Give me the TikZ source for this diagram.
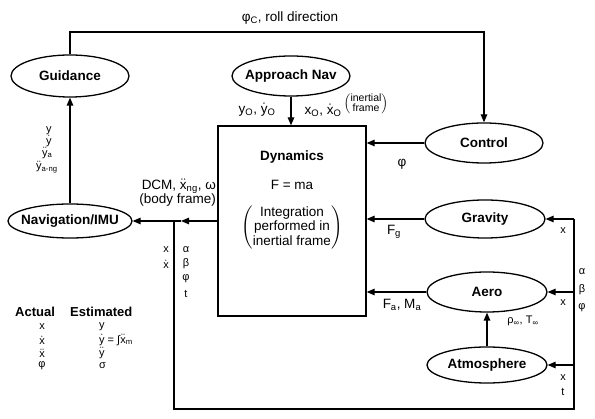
\documentclass[tikz,border=0pt]{standalone}
\usepackage{amsmath}
\usepackage{fontspec}
\setmainfont{Liberation Sans}
\usetikzlibrary{shapes.geometric,arrows.meta}
\newcommand{\dx}[1]{\ensuremath{\dot{\text{#1}}}}
\newcommand{\ddx}[1]{\ensuremath{\ddot{\text{#1}}}}
\newcommand{\s}[1]{\textsubscript{#1}}
\newcommand{\cz}[1]{\makebox[0pt]{#1}}
\begin{document}
\begin{tikzpicture}[x=1pt,y=-1pt,
  font=\fontsize{13.5}{15}\selectfont,
  ln/.style={line width=1.3pt},
  ell/.style={draw, ln, ellipse, inner sep=0pt, font=\fontsize{13.5}{15}\selectfont\bfseries},
  arr/.style={ln, -{Triangle[length=8pt,width=6.5pt]}},
  lab/.style={inner sep=0pt},
  tiny/.style={inner sep=0pt, font=\fontsize{11}{12}\selectfont},
  sm/.style={inner sep=0pt, font=\fontsize{10.5}{11}\selectfont}]
\useasboundingbox (0,0) rectangle (595,419);

% ellipses
\node[ell, minimum width=118pt, minimum height=42pt] (guid) at (70,76) {\cz{Guidance}};
\node[ell, minimum width=118pt, minimum height=40pt] (appr) at (291,76) {\cz{Approach Nav}};
\node[ell, minimum width=118pt, minimum height=40pt] (ctrl) at (484,143) {\cz{Control}};
\node[ell, minimum width=120pt, minimum height=38pt] (grav) at (485,219) {\cz{Gravity}};
\node[ell, minimum width=120pt, minimum height=40pt] (aero) at (487,292) {\cz{Aero}};
\node[ell, minimum width=120pt, minimum height=36pt] (atm) at (487,365) {\cz{Atmosphere}};
\node[ell, minimum width=124pt, minimum height=34pt] (nav) at (70,221) {\cz{Navigation/IMU}};

% dynamics box
\node[draw, ln, minimum width=148pt, minimum height=190pt, inner sep=0pt] (dyn) at (292,221) {};
\node[lab, font=\fontsize{13.5}{15}\selectfont\bfseries] (dtit) at (292,157) {Dynamics};
\node[lab] (fma) at (292,185) {F = ma};
\node[lab] (integ) at (292,228) {$\left(\vcenter{\hbox{\fontsize{13.5}{14.5}\selectfont\begin{tabular}{@{}c@{}}Integration\\performed in\\inertial frame\end{tabular}}}\right)$};

% coordinates
\coordinate (tl) at (70,32);
\coordinate (r1) at (574,219);
\coordinate (r2) at (574,292);
\coordinate (r3) at (574,365);
\coordinate (b1) at (574,409);
\coordinate (b2) at (174,409);
\coordinate (j) at (174,221);
\coordinate (m) at (181,221);

% connectors
\draw[arr] (guid.north) -- (tl) -| (ctrl.north);
\draw[arr] (appr.south) -- (appr.south |- dyn.north);
\draw[arr] (ctrl.west) -- (ctrl.west -| dyn.east);
\draw[arr] (grav.west) -- (grav.west -| dyn.east);
\draw[arr] (aero.west) -- (aero.west -| dyn.east);
\draw[arr] (atm.north) -- (aero.south);
\draw[ln] (r1) -- (b1) -- (b2) -- (j);
\draw[arr] (r1) -- (grav.east);
\draw[arr] (r2) -- (aero.east);
\draw[arr] (r3) -- (atm.east);
\draw[arr] (dyn.west) -- (m);
\draw[arr] (m) -- (nav.east);
\draw[arr] (nav.north) -- (guid.south);

% labels
\node[lab] (lroll) at (290,18) {φ\s{C}, roll direction};
\node[lab] (lyo) at (257,110) {y\s{O}, \dx{y}\s{O}};
\node[lab] (lxo) at (323,110) {x\s{O}, \dx{x}\s{O}};
\node[sm] (lin) at (366,104) {$\left(\vcenter{\hbox{\fontsize{10.5}{10}\selectfont\begin{tabular}{@{}c@{}}inertial\\frame\end{tabular}}}\right)$};
\node[lab] (lphi) at (402,164) {φ};
\node[lab] (lfg) at (394,232) {F\s{g}};
\node[lab] (lfa) at (402,305) {F\s{a}, M\s{a}};
\node[tiny] (lrho) at (523,321) {ρ\s{∞}, T\s{∞}};
\node[tiny] (rx1) at (563,231) {x};
\node[tiny] (ra) at (582,272) {α};
\node[tiny] (rb) at (582,290) {β};
\node[tiny] (rp) at (582,308) {φ};
\node[tiny] (rx2) at (563,303) {x};
\node[tiny] (rx3) at (563,378) {x};
\node[tiny] (rt) at (563,392) {t};

\node[lab, anchor=east] (ldcm) at (216,186) {DCM, \ddx{x}\s{ng}, ω};
\node[lab, anchor=east] (lbody) at (216,200) {(body frame)};
\node[tiny] (lx1) at (166,250) {x};
\node[tiny] (lx2) at (166,264) {\dx{x}};
\node[tiny] (la) at (186,250) {α};
\node[tiny] (lb) at (186,264) {β};
\node[tiny] (lp) at (186,279) {φ};
\node[tiny] (lt) at (186,294) {t};

\node[tiny, anchor=west] (gy1) at (46,131) {y};
\node[tiny, anchor=west] (gy2) at (46,141) {\dx{y}};
\node[tiny, anchor=west] (gy3) at (42,153) {\ddx{y}\s{a}};
\node[tiny, anchor=west] (gy4) at (36,167) {\ddx{y}\s{a-ng}};

% legend
\node[lab, anchor=west, font=\fontsize{13}{15}\selectfont\bfseries] (act) at (15,312) {Actual};
\node[lab, anchor=west, font=\fontsize{13}{15}\selectfont\bfseries] (est) at (70,312) {Estimated};
\node[tiny] (a1) at (42,327) {x};
\node[tiny] (a2) at (42,340) {\dx{x}};
\node[tiny] (a3) at (42,353) {\ddx{x}};
\node[tiny] (a4) at (42,366) {φ};
\node[tiny, anchor=west] (e1) at (99,327) {y};
\node[tiny, anchor=west] (e2) at (99,340) {\dx{y} = ∫\ddx{x}\s{m}};
\node[tiny, anchor=west] (e3) at (99,353) {\ddx{y}};
\node[tiny, anchor=west] (e4) at (99,366) {σ};
\end{tikzpicture}
\end{document}
